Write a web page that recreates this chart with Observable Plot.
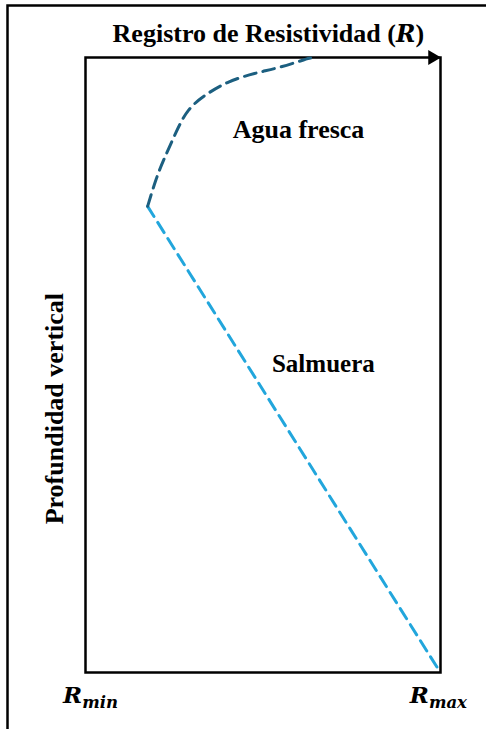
<!DOCTYPE html>
<html>
<head>
<meta charset="utf-8">
<script src="https://cdn.jsdelivr.net/npm/d3@7"></script>
<script src="https://cdn.jsdelivr.net/npm/@observablehq/plot@0.6"></script>
<style>
  html, body { margin: 0; padding: 0; background: #fff; overflow: hidden; }
</style>
</head>
<body>
<div id="chart"></div>
<script>
// Fresh-water branch (normalized resistivity vs normalized depth)
const freshR     = [0.634, 0.614, 0.546, 0.476, 0.403, 0.341, 0.290, 0.254, 0.223, 0.199, 0.175];
const freshDepth = [0.001, 0.004, 0.016, 0.026, 0.040, 0.060, 0.086, 0.123, 0.163, 0.198, 0.242];
// Brine branch
const brineR     = [0.175, 0.992];
const brineDepth = [0.242, 0.993];

const titleText = "Registro de Resistividad (R)";
const depthLabel = "Profundidad vertical";
const zoneLabels = ["Agua fresca", "Salmuera"];
const tickValues = [0, 1];
const tickLabels = ["Rmin", "Rmax"];

const fresh = freshR.map((r, i) => ({r, d: freshDepth[i]})).reverse();
const brine = brineR.map((r, i) => ({r, d: brineDepth[i]}));

const serif = "Liberation Serif";
const mathFont = "DejaVu Serif";

const chart = Plot.plot({
  width: 486,
  height: 729,
  marginLeft: 85,
  marginRight: 46,
  marginTop: 57,
  marginBottom: 57,
  style: {background: "#fff", overflow: "visible"},
  x: {domain: [0, 1], axis: null},
  y: {domain: [0, 1], axis: null, reverse: true},
  marks: [
    // outer page border (left and top only visible)
    Plot.frame({stroke: "#000", strokeWidth: 2.5, insetLeft: -78, insetTop: -52, insetRight: -60, insetBottom: -70}),
    // inner axes box
    Plot.frame({stroke: "#000", strokeWidth: 2.5}),
    // arrow head on the top axis
    Plot.dot([1], {x: d => d, y: () => 0, symbol: "triangle", rotate: 90, r: 5.5, fill: "#000", stroke: "none", dx: -8}),
    // curves
    Plot.line(brine, {x: "r", y: "d", stroke: "#22a6dc", strokeWidth: 3, strokeDasharray: "12,7"}),
    Plot.line(fresh, {x: "r", y: "d", stroke: "#1c5f80", strokeWidth: 3, strokeDasharray: "12,7", curve: "natural"}),
    // title
    Plot.text([titleText], {x: () => 0.515, y: () => -0.038, text: d => d, fontSize: 26, fontWeight: "bold", fontFamily: serif, fill: "#000"}),
    // zone labels
    Plot.text(zoneLabels, {x: [0.6, 0.67], y: [0.1166, 0.499], text: d => d, fontSize: [26, 25], fontWeight: "bold", fontFamily: serif, fill: "#000"}),
    // vertical axis label
    Plot.text([depthLabel], {x: () => -0.088, y: () => 0.571, text: d => d, rotate: -90, fontSize: 26, fontWeight: "bold", fontFamily: serif, fill: "#000"}),
    // tick labels
    Plot.text(tickLabels, {x: tickValues.map(v => v === 0 ? v + 0.014 : v - 0.006), y: () => 1.038, text: d => d, fontSize: 23, fontWeight: "bold", fontStyle: "italic", fontFamily: mathFont, fill: "#000"})
  ]
});

// rich text: italic math R and subscripts
d3.select(chart).selectAll("text").each(function() {
  const t = this.textContent;
  const sel = d3.select(this);
  if (tickLabels.includes(t)) {
    this.textContent = "";
    sel.append("tspan").text(t.slice(0, 1));
    sel.append("tspan").attr("font-size", "0.72em").attr("dy", "0.3em").text(t.slice(1));
  } else if (t === titleText) {
    const i = t.lastIndexOf("R");
    this.textContent = "";
    sel.append("tspan").text(t.slice(0, i));
    sel.append("tspan").attr("font-family", mathFont).attr("font-style", "italic").attr("font-size", "0.9em").text("R");
    sel.append("tspan").text(t.slice(i + 1));
  }
});

document.getElementById("chart").appendChild(chart);
</script>
</body>
</html>
